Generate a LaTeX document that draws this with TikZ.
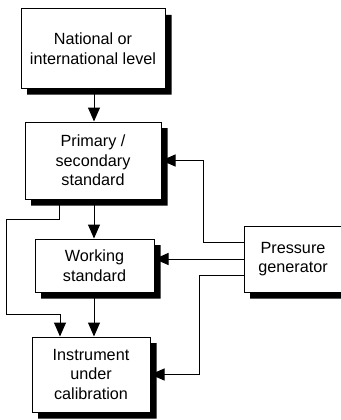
\documentclass[tikz,border=0pt]{standalone}
\usepackage{fontspec}
\setmainfont{Liberation Sans}
\usetikzlibrary{arrows.meta}
\tikzset{
  box/.style={draw=black, line width=1pt, fill=white, align=center, inner sep=0pt,
    font=\fontsize{16.2}{19.5}\selectfont},
  arr/.style={line width=1pt, -{Triangle[length=14pt,width=12pt]}}
}
\begin{document}
\begin{tikzpicture}[x=1pt,y=-1pt]
\useasboundingbox (0,0) rectangle (340,420);
\node[box, minimum width=144pt, minimum height=79pt] (nat) at (93,48.5) {National or\\international level};
\node[box, minimum width=136pt, minimum height=77pt] (ps) at (93,160.5) {Primary /\\secondary\\standard};
\node[box, minimum width=119pt, minimum height=53pt] (ws) at (94.5,265.5) {Working\\standard};
\node[box, minimum width=118pt, minimum height=75pt] (inst) at (91,374.5) {Instrument\\under\\calibration};
\node[box, minimum width=98pt, minimum height=66pt] (pg) at (293,259) {Pressure\\generator};
\coordinate (L1) at (6,219);
\coordinate (L2) at (6,314);
\draw[arr] (nat.south -| 94,0) -- (ps.north -| 94,0);
\draw[arr] (ps.south -| 94,0) -- (ws.north -| 94,0);
\draw[arr] (ws.south -| 94,0) -- (inst.north -| 94,0);
\draw[arr] (ps.south -| 59,0) |- (L1) -- (L2) -| (inst.north -| 60,0);
\draw[arr] ([yshift=17pt]pg.west) -| (ps.east -| 203,0) -- (ps.east);
\draw[arr] (pg.west) -- (pg.west -| ws.east);
\draw[arr] ([yshift=-16pt]pg.west) -| (inst.east -| 199,0) -- (inst.east);
\fill[black] (165.5,15) -- (171.5,15) -- (171.5,94.5) -- (27,94.5) -- (27,88.5) -- (165.5,88.5) -- cycle;
\fill[black] (161.5,128) -- (167.5,128) -- (167.5,205.5) -- (31,205.5) -- (31,199.5) -- (161.5,199.5) -- cycle;
\fill[black] (154.5,245) -- (160.5,245) -- (160.5,298.5) -- (41,298.5) -- (41,292.5) -- (154.5,292.5) -- cycle;
\fill[black] (150.5,343) -- (156.5,343) -- (156.5,418.5) -- (38,418.5) -- (38,412.5) -- (150.5,412.5) -- cycle;
\fill[black] (342.5,232) -- (348.5,232) -- (348.5,298.5) -- (250,298.5) -- (250,292.5) -- (342.5,292.5) -- cycle;
\end{tikzpicture}
\end{document}
